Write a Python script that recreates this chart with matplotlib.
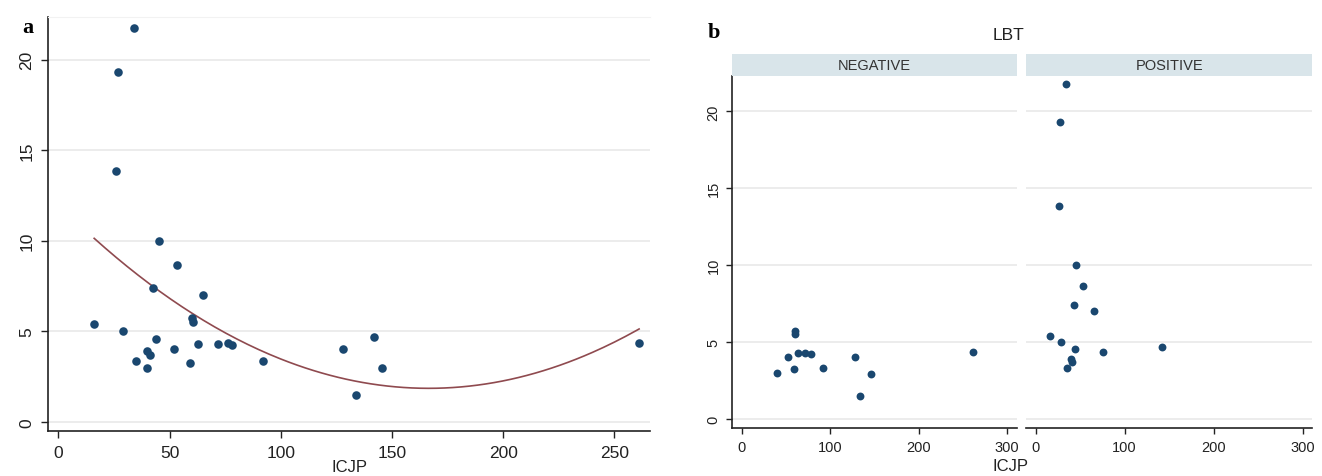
import numpy as np
import matplotlib
matplotlib.use("Agg")
import matplotlib.pyplot as plt

plt.rcParams['font.family'] = ['Liberation Sans', 'DejaVu Sans']

# ICJP vs outcome, split by LBT result
icjp_neg = [39.9, 51.9, 59.2, 60.0, 60.7, 63.0, 71.9, 78.1, 92.0, 127.9, 134.0, 145.7, 261.1]
y_neg = [2.98, 4.02, 3.26, 5.75, 5.52, 4.31, 4.31, 4.24, 3.35, 4.03, 1.48, 2.95, 4.33]

icjp_pos = [34.0, 27.0, 26.1, 45.1, 53.2, 42.7, 65.1, 16.1, 29.0, 44.1, 40.0, 41.2, 34.9, 76.2, 142.1]
y_pos = [21.75, 19.32, 13.83, 10.0, 8.66, 7.40, 7.0, 5.41, 5.01, 4.55, 3.92, 3.69, 3.34, 4.33, 4.66]

panel_names = ["NEGATIVE", "POSITIVE"]
xticks_a = [0, 50, 100, 150, 200, 250]
xticks_b = [0, 100, 200, 300]
yticks = [0, 5, 10, 15, 20]

navy = '#1a476f'
maroon = '#8f4a4f'
grid_c = '#ebebeb'
strip_c = '#d9e5ea'
txt_c = '#222222'

W, H = 1322, 477
fig = plt.figure(figsize=(W / 100, H / 100), dpi=100)


def fr(x0, y0, x1, y1):
    # pixel box -> figure fraction rect
    return [x0 / W, 1 - y1 / H, (x1 - x0) / W, (y1 - y0) / H]


def style(ax, size, ticklen, xpad, ypad):
    for s in ['top', 'right']:
        ax.spines[s].set_visible(False)
    for s in ['left', 'bottom']:
        ax.spines[s].set_linewidth(1.2)
        ax.spines[s].set_color('#222222')
    ax.grid(axis='y', color=grid_c, linewidth=1.3)
    ax.set_axisbelow(True)
    ax.tick_params(axis='x', length=ticklen, width=1.0, labelsize=size, pad=xpad, colors=txt_c)
    ax.tick_params(axis='y', length=ticklen, width=1.0, labelsize=size, pad=ypad, colors=txt_c)
    for lab in ax.get_yticklabels():
        lab.set_rotation(90)
        lab.set_va('center')


# ---- panel a ----
x_all = np.array(icjp_neg + icjp_pos)
y_all = np.array(y_neg + y_pos)

axa = fig.add_axes(fr(47.7, 18, 650, 432.3))
axa.set_xlim(-4.8, 266)
axa.set_ylim(-0.53, 22.36)
axa.set_xticks(xticks_a)
axa.set_yticks(yticks)
axa.scatter(x_all, y_all, s=38, color=navy, zorder=3, linewidths=0)
coef = np.polyfit(x_all, y_all, 2)
xx = np.linspace(x_all.min(), x_all.max(), 200)
axa.plot(xx, np.polyval(coef, xx), color=maroon, linewidth=1.2, zorder=2)
style(axa, 12.5, 5, 5, 4.5)
axa.spines['top'].set_visible(True)
axa.spines['top'].set_color('#f2f2f2')
fig.text(349 / W, 1 - 468 / H, "ICJP", ha='center', va='center', fontsize=12, color=txt_c)
fig.text(28 / W, 1 - 28 / H, "a", ha='center', va='center', fontsize=16,
         fontweight='bold', family='Liberation Serif')

# ---- panel b ----
boxes = [(732.3, 1016.7), (1026, 1312.3)]
data_b = [(icjp_neg, y_neg), (icjp_pos, y_pos)]
for i, (name, (xs, ys), (x0, x1)) in enumerate(zip(panel_names, data_b, boxes)):
    ax = fig.add_axes(fr(x0, 77, x1, 429))
    ax.set_xlim(-10.8, 311)
    ax.set_ylim(-0.58, 22.3)
    ax.set_xticks(xticks_b)
    ax.set_yticks(yticks)
    ax.scatter(xs, ys, s=32, color=navy, zorder=3, linewidths=0)
    style(ax, 10.5, 4.5, 4, 4)
    if i == 1:
        ax.spines['left'].set_visible(False)
        ax.tick_params(axis='y', left=False, labelleft=False)
    strip = fig.add_axes(fr(x0, 55, x1, 77))
    strip.set_facecolor(strip_c)
    strip.set_xticks([])
    strip.set_yticks([])
    for s in strip.spines.values():
        s.set_visible(False)
    strip.text(0.5, 0.5, name, ha='center', va='center', fontsize=10.5,
               color='#333333', transform=strip.transAxes)

fig.text(1009 / W, 1 - 35 / H, "LBT", ha='center', va='center', fontsize=12.5, color=txt_c)
fig.text(1010 / W, 1 - 467 / H, "ICJP", ha='center', va='center', fontsize=12, color=txt_c)
fig.text(714 / W, 1 - 33 / H, "b", ha='center', va='center', fontsize=16,
         fontweight='bold', family='Liberation Serif')

fig.savefig("out.png", dpi=100)
